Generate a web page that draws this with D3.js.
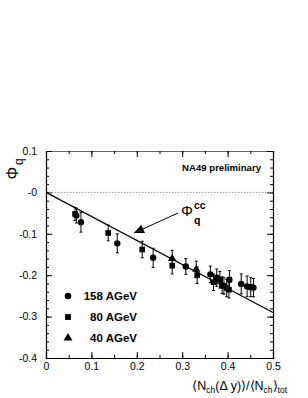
<!DOCTYPE html>
<html>
<head>
<meta charset="utf-8">
<script src="https://cdn.jsdelivr.net/npm/d3@7"></script>
<style>
  body { margin: 0; background: #fff; }
  svg { display: block; font-family: "Liberation Sans", Arial, sans-serif; }
  .tick text { font-size: 10.5px; fill: #000; }
  .bold { font-weight: bold; }
</style>
</head>
<body>
<div id="chart"></div>
<script>
// energies shown in the legend
var energies = ["158 AGeV", "80 AGeV", "40 AGeV"];

// 158 AGeV (circles)
var x158 = [0.067, 0.077, 0.157, 0.236, 0.308, 0.362, 0.376, 0.383, 0.388, 0.398, 0.404, 0.430, 0.443, 0.451, 0.457];
var y158 = [-0.056, -0.072, -0.123, -0.158, -0.179, -0.198, -0.206, -0.211, -0.224, -0.231, -0.211, -0.221, -0.227, -0.229, -0.230];
var e158 = [0.018, 0.024, 0.023, 0.023, 0.019, 0.020, 0.021, 0.020, 0.020, 0.021, 0.022, 0.024, 0.025, 0.023, 0.022];

// 80 AGeV (squares)
var x80 = [0.064, 0.137, 0.212, 0.278, 0.333, 0.369, 0.392, 0.403];
var y80 = [-0.052, -0.098, -0.138, -0.177, -0.200, -0.217, -0.226, -0.235];
var e80 = [0.016, 0.019, 0.020, 0.020, 0.020, 0.020, 0.020, 0.020];

// 40 AGeV (triangles)
var x40 = [0.278, 0.331];
var y40 = [-0.160, -0.186];
var e40 = [0.020, 0.020];

// Phi_q^cc line ends
var fitX = [0, 0.5];
var fitY = [0, -0.29];

var xTicks = [0, 0.1, 0.2, 0.3, 0.4, 0.5];
var yTicks = [0.1, 0, -0.1, -0.2, -0.3, -0.4];

var svgWidth = 308;
var svgHeight = 398;

var margin = { top: 151, right: 35, bottom: 40, left: 46 };
var width = svgWidth - margin.left - margin.right;
var height = svgHeight - margin.top - margin.bottom;

var svg = d3.select("#chart")
  .append("svg")
  .attr("width", svgWidth)
  .attr("height", svgHeight);

var chartGroup = svg.append("g")
  .attr("transform", `translate(${margin.left}, ${margin.top})`);

var xScale = d3.scaleLinear().domain([0, 0.5]).range([0, width]);
var yScale = d3.scaleLinear().domain([-0.4, 0.1]).range([height, 0]);

// y axis shows "-0" at zero, x axis shows "0"
var fmtX = v => Math.abs(v) < 1e-9 ? "0" : String(+v.toFixed(1));
var fmtY = v => Math.abs(v) < 1e-9 ? "-0" : String(+v.toFixed(1));

// minor tick positions
var xMinor = d3.range(0, 0.5001, 0.05);
var yMinor = d3.range(-0.4, 0.1001, 0.02);

// bottom axis
chartGroup.append("g")
  .attr("transform", `translate(0, ${height})`)
  .call(d3.axisBottom(xScale).tickValues(xMinor).tickSize(-3).tickFormat(""))
  .call(g => g.select(".domain").remove());
chartGroup.append("g")
  .attr("transform", `translate(0, ${height})`)
  .call(d3.axisBottom(xScale).tickValues(xTicks).tickSize(-6).tickPadding(5).tickFormat(fmtX));

// top axis ticks
chartGroup.append("g")
  .call(d3.axisTop(xScale).tickValues(xMinor).tickSize(-3).tickFormat(""))
  .call(g => g.select(".domain").attr("stroke", "#666"));
chartGroup.append("g")
  .call(d3.axisTop(xScale).tickValues(xTicks).tickSize(-6).tickFormat(""))
  .call(g => g.select(".domain").remove());

// left axis
chartGroup.append("g")
  .call(d3.axisLeft(yScale).tickValues(yMinor).tickSize(-3).tickFormat(""))
  .call(g => g.select(".domain").remove());
chartGroup.append("g")
  .call(d3.axisLeft(yScale).tickValues(yTicks).tickSize(-6).tickPadding(9).tickFormat(fmtY));

// right axis
chartGroup.append("g")
  .attr("transform", `translate(${width}, 0)`)
  .call(d3.axisRight(yScale).tickValues(yMinor).tickSize(-3).tickFormat(""))
  .call(g => g.select(".domain").remove());
chartGroup.append("g")
  .attr("transform", `translate(${width}, 0)`)
  .call(d3.axisRight(yScale).tickValues(yTicks).tickSize(-6).tickFormat(""));

chartGroup.selectAll(".domain").attr("stroke-width", 1.2);

// zero line
chartGroup.append("line")
  .attr("x1", xScale(0)).attr("x2", xScale(0.5))
  .attr("y1", yScale(0)).attr("y2", yScale(0))
  .attr("stroke", "#999")
  .attr("stroke-dasharray", "1.5,1.5");

// Phi_q^cc line
chartGroup.append("line")
  .attr("x1", xScale(fitX[0])).attr("y1", yScale(fitY[0]))
  .attr("x2", xScale(fitX[1])).attr("y2", yScale(fitY[1]))
  .attr("stroke", "#000")
  .attr("stroke-width", 1.2);

// data series
function series(xs, ys, es, shape) {
  var data = xs.map((x, i) => ({ x: x, y: ys[i], e: es[i] }));
  var g = chartGroup.append("g");
  g.selectAll("line.bar").data(data).enter().append("line")
    .attr("x1", d => xScale(d.x)).attr("x2", d => xScale(d.x))
    .attr("y1", d => yScale(d.y - d.e)).attr("y2", d => yScale(d.y + d.e))
    .attr("stroke", "#000").attr("stroke-width", 1);
  [1, -1].forEach(function(s) {
    g.selectAll(null).data(data).enter().append("line")
      .attr("x1", d => xScale(d.x) - 1.5).attr("x2", d => xScale(d.x) + 1.5)
      .attr("y1", d => yScale(d.y + s * d.e)).attr("y2", d => yScale(d.y + s * d.e))
      .attr("stroke", "#000").attr("stroke-width", 1);
  });
  g.selectAll("path.pt").data(data).enter().append("path")
    .attr("transform", d => `translate(${xScale(d.x)}, ${yScale(d.y)})`)
    .attr("d", d3.symbol().type(shape).size(shape === d3.symbolTriangle ? 30 : 32))
    .attr("fill", "#000");
}
series(x158, y158, e158, d3.symbolCircle);
series(x80, y80, e80, d3.symbolSquare);
series(x40, y40, e40, d3.symbolTriangle);

// legend
var shapes = [d3.symbolCircle, d3.symbolSquare, d3.symbolTriangle];
energies.forEach(function(name, i) {
  var ly = 296 + i * 21 - margin.top;
  chartGroup.append("path")
    .attr("transform", `translate(${68 - margin.left}, ${ly})`)
    .attr("d", d3.symbol().type(shapes[i]).size(34))
    .attr("fill", "#000");
  chartGroup.append("text")
    .attr("class", "bold")
    .attr("x", 137 - margin.left)
    .attr("y", ly + 4)
    .attr("text-anchor", "end")
    .attr("font-size", "11.5px")
    .text(name);
});

// NA49 label
chartGroup.append("text")
  .attr("class", "bold")
  .attr("x", 261 - margin.left)
  .attr("y", 171 - margin.top)
  .attr("text-anchor", "end")
  .attr("font-size", "9.6px")
  .text("NA49 preliminary");

// arrow to the line
var tip = [134 - margin.left, 233 - margin.top];
var tail = [178 - margin.left, 213 - margin.top];
chartGroup.append("line")
  .attr("x1", tail[0]).attr("y1", tail[1])
  .attr("x2", tip[0]).attr("y2", tip[1])
  .attr("stroke", "#000").attr("stroke-width", 1);
var ang = Math.atan2(tip[1] - tail[1], tip[0] - tail[0]);
var hl = 10, hw = 4.5;
var bx = tip[0] - hl * Math.cos(ang), by = tip[1] - hl * Math.sin(ang);
chartGroup.append("path")
  .attr("d", `M${tip[0]},${tip[1]}L${bx + hw * Math.sin(ang)},${by - hw * Math.cos(ang)}L${bx - hw * Math.sin(ang)},${by + hw * Math.cos(ang)}Z`)
  .attr("fill", "#000");

// Phi_q^cc text
chartGroup.append("text")
  .attr("x", 181 - margin.left).attr("y", 216 - margin.top)
  .attr("font-size", "15px")
  .text("\u03A6");
chartGroup.append("text")
  .attr("class", "bold")
  .attr("x", 194 - margin.left).attr("y", 209 - margin.top)
  .attr("font-size", "10.5px")
  .text("cc");
chartGroup.append("text")
  .attr("class", "bold")
  .attr("x", 194 - margin.left).attr("y", 224 - margin.top)
  .attr("font-size", "10.5px")
  .text("q");

// y axis title
var yt = svg.append("g").attr("transform", "translate(18, 173) rotate(-90)");
yt.append("text")
  .attr("x", 0).attr("y", 0)
  .attr("text-anchor", "middle")
  .attr("font-size", "16px")
  .text("\u03A6");
yt.append("text")
  .attr("x", 8).attr("y", 5)
  .attr("font-size", "12px")
  .text("q");

// x axis title
var xt = svg.append("text")
  .attr("x", 287).attr("y", 390)
  .attr("text-anchor", "end")
  .attr("font-size", "12.5px");
xt.append("tspan").text("\u27E8N");
xt.append("tspan").attr("font-size", "8.5px").attr("dy", 3).text("ch");
xt.append("tspan").attr("dy", -3).text("(\u0394 y)\u27E9/\u27E8N");
xt.append("tspan").attr("font-size", "8.5px").attr("dy", 3).text("ch");
xt.append("tspan").attr("dy", -3).text("\u27E9");
xt.append("tspan").attr("font-size", "8.5px").attr("dy", 3).text("tot");
</script>
</body>
</html>
